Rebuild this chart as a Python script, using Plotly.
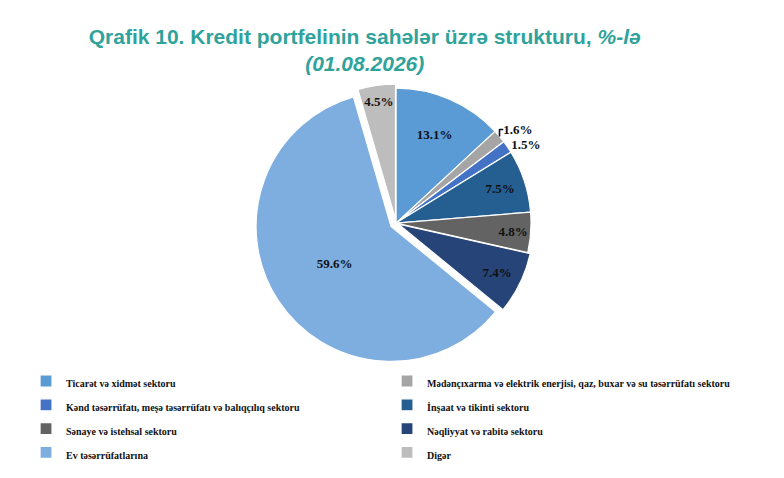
import plotly.graph_objects as go

categories = [
    "Ticarət və xidmət sektoru",
    "Mədənçıxarma və elektrik enerjisi, qaz, buxar və su təsərrüfatı sektoru",
    "Kənd təsərrüfatı, meşə təsərrüfatı və balıqçılıq sektoru",
    "İnşaat və tikinti sektoru",
    "Sənaye və istehsal sektoru",
    "Nəqliyyat və rabitə sektoru",
    "Ev təsərrüfatlarına",
    "Digər",
]
shares = [13.1, 1.6, 1.5, 7.5, 4.8, 7.4, 59.6, 4.5]
colors = ["#5B9BD5", "#A5A5A5", "#4472C4", "#255E91", "#636363", "#264478", "#7DAEDF", "#BDBDBD"]
text_pos = ["inside", "outside", "outside", "inside", "inside", "inside", "inside", "inside"]
pulls = [0, 0, 0, 0, 0, 0.02, 0.045, 0.03]

legend_labels = ['<span style="font-size:10px"><b>' + c + '</b></span>' for c in categories]

fig = go.Figure(go.Pie(
    labels=legend_labels,
    values=shares,
    sort=False,
    direction="clockwise",
    rotation=0,
    marker=dict(colors=colors, line=dict(color="white", width=1.2)),
    texttemplate="<b>%{value:.1f}%</b>",
    textposition=text_pos,
    insidetextorientation="horizontal",
    textfont=dict(family="Liberation Serif", size=13, color="#111111"),
    outsidetextfont=dict(family="Liberation Serif", size=13, color="#111111"),
    pull=pulls,
    hole=0,
    domain=dict(x=[0.19, 0.8], y=[0.255, 0.845]),
    showlegend=True,
    hoverinfo="percent",
))

fig.update_layout(
    width=784, height=478,
    margin=dict(l=0, r=0, t=0, b=0),
    paper_bgcolor="white",
    title=dict(
        text="<b>Qrafik 10. Kredit portfelinin sahələr üzrə strukturu, <i>%-lə</i><br><i>(01.08.2026)</i></b>",
        x=0.455, xanchor="center", y=0.925, yanchor="top",
        font=dict(family="Liberation Sans", size=21, color="#2FA39B"),
    ),
    legend=dict(
        orientation="h",
        x=0.023, xanchor="left",
        y=0.255, yanchor="top",
        entrywidth=316, entrywidthmode="pixels",
        font=dict(family="Liberation Serif", size=16, color="#111111"),
        bgcolor="rgba(0,0,0,0)",
        itemwidth=30,
        traceorder="normal",
    ),
    shapes=[dict(type="rect", xref="paper", yref="paper", x0=0.9935, x1=1.0, y0=0, y1=1,
                 fillcolor="#3F4548", line=dict(width=0))],
)

fig.write_html("out.html")
